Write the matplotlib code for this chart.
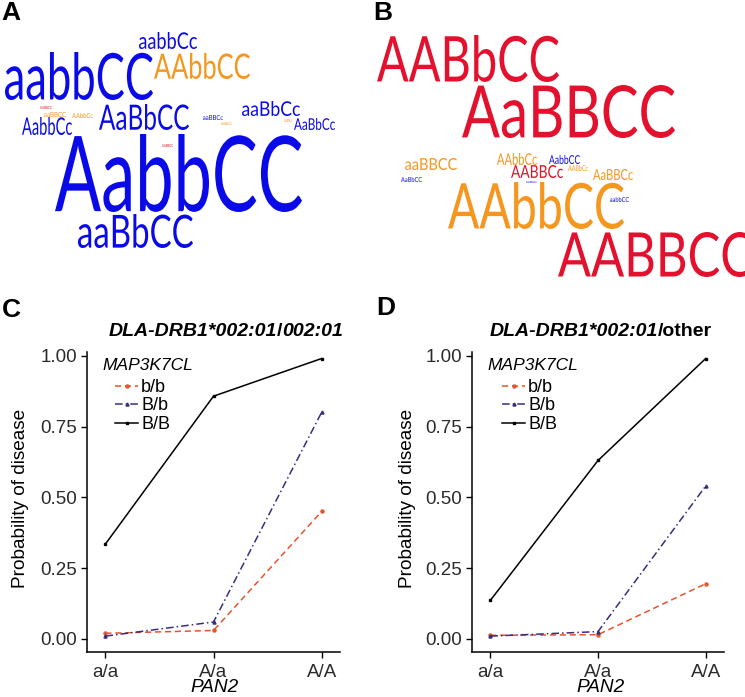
import matplotlib.pyplot as plt
import numpy as np
from matplotlib.textpath import TextPath
from matplotlib.patches import PathPatch
from matplotlib.font_manager import FontProperties
from matplotlib.transforms import Affine2D
from matplotlib.offsetbox import TextArea, HPacker, AnnotationBbox

plt.rcParams['font.family'] = ['Liberation Sans', 'DejaVu Sans']

W, H = 745, 697

BLUE = '#0a0ae8'
ORANGE = '#f5961e'
RED = '#e3112d'

# ---- word cloud A ----
words_A = ['aabbCc', 'aabbCC', 'AAbbCC', 'AaBbCC', 'AabbCc', 'aaBbCc', 'AaBbCc',
           'AabbCC', 'aaBbCC', 'aaBBCC', 'AAbbCc', 'AABBCC', 'aaBBCc', 'AABbCC',
           'AABBCc', 'AABBCC']
colors_A = [BLUE, BLUE, ORANGE, BLUE, BLUE, BLUE, BLUE,
            BLUE, BLUE, ORANGE, ORANGE, RED, BLUE, ORANGE,
            ORANGE, RED]
# layout (pixels): x0, x1, top, bottom
boxes_A = [(139, 197, 32, 49), (5, 153, 52, 100), (154, 250, 53, 79),
           (99, 189, 104, 130), (22, 72, 117, 135), (242, 300, 101, 116),
           (294, 335, 118, 130), (55, 302, 134, 212), (78, 193, 214, 248),
           (44, 66, 112, 117), (72, 93, 113, 118), (40, 52, 106, 109),
           (203, 223, 115, 120), (221, 232, 122, 125), (284, 292, 119, 122),
           (162, 173, 144, 147)]

# ---- word cloud B ----
words_B = ['AABbCC', 'AaBBCC', 'aaBBCC', 'AaBbCC', 'AAbbCc', 'AabbCC', 'AABBCc',
           'AABbCc', 'AaBBCc', 'AABbCC', 'AAbbCC', 'aabbCC', 'AABBCC']
colors_B = [RED, RED, ORANGE, BLUE, ORANGE, BLUE, RED,
            ORANGE, ORANGE, BLUE, ORANGE, BLUE, RED]
boxes_B = [(377, 559, 35, 82), (462, 675, 85, 138), (405, 457, 158, 170),
           (401, 422, 177, 182), (497, 537, 153, 165), (549, 580, 155, 164),
           (511, 563, 165, 178), (568, 588, 165, 171), (593, 633, 169, 180),
           (526, 537, 181, 183), (448, 624, 182, 229), (610, 629, 197, 202),
           (558, 752, 232, 277)]

# ---- interaction plots ----
pan2 = ['a/a', 'A/a', 'A/A']
labels = ['b/b', 'B/b', 'B/B']
C_bb = [0.02, 0.03, 0.45]
C_Bb = [0.01, 0.06, 0.80]
C_BB = [0.335, 0.857, 0.99]
D_bb = [0.013, 0.015, 0.195]
D_Bb = [0.01, 0.026, 0.54]
D_BB = [0.136, 0.63, 0.99]

fig = plt.figure(figsize=(W / 100, H / 100), dpi=100)
bg = fig.add_axes([0, 0, 1, 1])
bg.set_xlim(0, W)
bg.set_ylim(0, H)
bg.axis('off')

wc_font = FontProperties(family='Lato')


def draw_word(word, color, box):
    x0, x1, yt, yb = box
    tp = TextPath((0, 0), word, size=10, prop=wc_font)
    ext = tp.get_extents()
    tr = (Affine2D().translate(-ext.x0, -ext.y0)
          .scale((x1 - x0) / ext.width, (yb - yt) / ext.height)
          .translate(x0, H - yb))
    bg.add_patch(PathPatch(tr.transform_path(tp), fc=color, ec='none', lw=0))


for w, c, b in zip(words_A, colors_A, boxes_A):
    draw_word(w, c, b)
for w, c, b in zip(words_B, colors_B, boxes_B):
    draw_word(w, c, b)


def px_axes(x0, x1, ytop, ybot):
    return fig.add_axes([x0 / W, 1 - ybot / H, (x1 - x0) / W, (ybot - ytop) / H])


def panel(ax, bb, Bb, BB):
    x = np.arange(len(pan2))
    ax.plot(x, bb, color='#e8532b', ls=(0, (4, 2.5)), lw=1.1, marker='o', ms=2.2, label=labels[0])
    ax.plot(x, Bb, color='#3b2d7e', ls=(0, (5, 2, 1, 2)), lw=1.1, marker='^', ms=2.2, label=labels[1])
    ax.plot(x, BB, color='black', ls='-', lw=1.1, marker='s', ms=1.8, label=labels[2])
    ax.set_xticks(x, pan2)
    ax.set_yticks([0, 0.25, 0.5, 0.75, 1.0], ['0.00', '0.25', '0.50', '0.75', '1.00'])
    ax.set_xlim(-0.17, 2.17)
    ax.set_ylim(-0.046, 1.013)
    for s in ['top', 'right']:
        ax.spines[s].set_visible(False)
    for s in ['left', 'bottom']:
        ax.spines[s].set_linewidth(1.1)
    ax.tick_params(length=4, width=1, labelsize=13.5, labelcolor='#2b2b2b')
    ax.tick_params(axis='x', pad=4.5)
    ax.tick_params(axis='y', pad=3)
    ax.set_facecolor('none')


axC = px_axes(87, 340, 352, 652)
panel(axC, C_bb, C_Bb, C_BB)
axD = px_axes(472, 724, 352, 652)
panel(axD, D_bb, D_Bb, D_BB)

for ax, lx, tx in [(axC, 115, 102), (axD, 502, 487)]:
    ax.legend(loc='upper left', bbox_to_anchor=(lx / W, 1 - 379 / H),
              bbox_transform=fig.transFigure, frameon=False, fontsize=13,
              handlelength=1.3, handletextpad=0.15, labelspacing=0.08,
              borderpad=0, borderaxespad=0)
    fig.text(tx / W, 1 - 358 / H, 'MAP3K7CL', fontsize=12.5, style='italic', va='top')

# axis labels
fig.text(21 / W, 1 - 498 / H, 'Probability of disease', rotation=90, fontsize=13.7,
         ha='center', va='center')
fig.text(407 / W, 1 - 498 / H, 'Probability of disease', rotation=90, fontsize=13.7,
         ha='center', va='center')
fig.text(215 / W, 1 - 688 / H, 'PAN2', style='italic', fontsize=13.7, ha='center', va='center')
fig.text(601 / W, 1 - 688 / H, 'PAN2', style='italic', fontsize=13.7, ha='center', va='center')


# titles with mixed styles
def title(parts, xc, yc):
    areas = [TextArea(t, textprops=dict(fontsize=14, fontweight='bold',
                                        style='italic' if it else 'normal'))
             for t, it in parts]
    pack = HPacker(children=areas, pad=0, sep=0, align='baseline')
    ab = AnnotationBbox(pack, (xc, H - yc), xycoords='figure pixels',
                        frameon=False, box_alignment=(0.5, 0.5))
    fig.add_artist(ab)


title([('DLA-DRB1*002:01', True), ('/', False), ('002:01', True)], 226, 332)
title([('DLA-DRB1*002:01', True), ('/other', False)], 601, 332)

# panel letters
for letter, x, y in [('A', 1, 1), ('B', 373, 1), ('C', 2, 298), ('D', 376, 296)]:
    fig.text(x / W, 1 - y / H, letter, fontsize=19, fontweight='bold', va='top')

plt.savefig('out.png', dpi=100)
plt.close()
